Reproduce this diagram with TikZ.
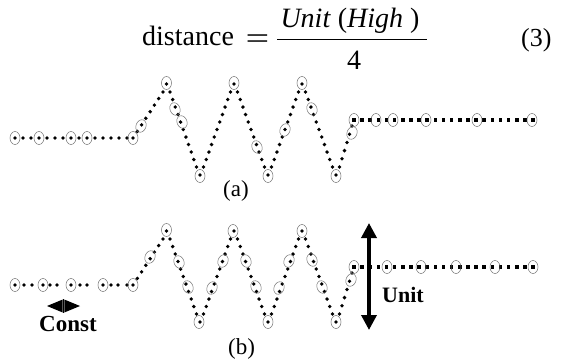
\documentclass[tikz,border=0pt]{standalone}
\usepackage{fontspec}
\setmainfont{Liberation Serif}
\usetikzlibrary{arrows.meta}
\tikzset{
  ring/.style={draw=black!55, line width=0.5pt},
  bigarrow/.style={line width=3.5pt,{Triangle[length=15pt,width=15pt]}-{Triangle[length=15pt,width=15pt]}},
  lbl/.style={inner sep=0pt, font=\fontsize{23}{25}\selectfont},
  blbl/.style={inner sep=0pt, font=\fontsize{22}{24}\selectfont\bfseries},
  eq/.style={inner sep=0pt, font=\fontsize{28}{30}\selectfont}
}
% dotted segment: x1 y1 x2 y2 n  (dots k=0..n)
\newcommand\dseg[5]{\foreach \k in {0,...,#5}{\pgfmathsetmacro\xx{#1+(#3-#1)*\k/#5}\pgfmathsetmacro\yy{#2+(#4-#2)*\k/#5}\fill (\xx,\yy) circle (1.9);}}
\newcommand\sqseg[5]{\foreach \k in {0,...,#5}{\pgfmathsetmacro\xx{#1+(#3-#1)*\k/#5}\pgfmathsetmacro\yy{#2+(#4-#2)*\k/#5}\fill (\xx-1.8,\yy-1.8) rectangle (\xx+1.8,\yy+1.8);}}
\newcommand\ringV[2]{\draw[ring] (#1,#2) ellipse (5 and 6.5);}
\newcommand\ringR[2]{\draw[ring, rotate around={-22:(#1,#2)}] (#1,#2) ellipse (5 and 6.5);}
\newcommand\ringF[2]{\draw[ring, rotate around={22:(#1,#2)}] (#1,#2) ellipse (5 and 6.5);}
% zigzag (shared): apex 84, valleys 175, left flat 138, right flat 120
\newcommand\zigzag{%
  \dseg{133}{138}{163}{92}{7}
  \fill (166.5,84) circle (1.9);
  \dseg{170}{92}{196.5}{167}{10}
  \fill (200,175) circle (1.9);
  \dseg{203.5}{167}{230.5}{92}{10}
  \fill (234,84) circle (1.9);
  \dseg{237.5}{92}{264.5}{167}{10}
  \fill (268,175) circle (1.9);
  \dseg{271.5}{167}{298.5}{92}{10}
  \fill (302,84) circle (1.9);
  \dseg{305.5}{92}{332.5}{167}{10}
  \fill (336,175) circle (1.9);
  \dseg{339.5}{167}{352}{126}{5}
  \sqseg{354}{120}{533}{120}{22}
}
\begin{document}
\begin{tikzpicture}[x=1pt,y=-1pt]
\useasboundingbox (0,0) rectangle (574,362);

% ---------- equation ----------
\node[eq, anchor=base west] (dist) at (142,45) {distance};
\node[inner sep=0pt, font=\fontsize{30}{32}\selectfont, anchor=base] (eqs) at (257.5,48.5) {\scalebox{1.4}[1]{=}};
\coordinate (fb1) at (277,39.5);
\coordinate (fb2) at (427,39.5);
\draw[line width=1.2pt] (fb1) -- (fb2);
\node[eq, anchor=base] (num) at (350,27) {\textit{Unit} (\textit{High} )};
\node[eq, anchor=base] (den) at (354,69) {4};
\node[inner sep=0pt, font=\fontsize{26}{28}\selectfont, anchor=base west] (eqn) at (521,46) {(3)};

% ---------- panel (a) ----------
\foreach \x in {15,23,...,127} {\fill (\x,138) circle (1.9);}
\zigzag
\foreach \x/\y in {15/138,39/138,71/138,87/138,133/138,166.5/83,200/176,234/83,268/176,302/83,336/176,354/120,376/120,393/120,426/120,477/120,532/120} {\ringV{\x}{\y}}
\foreach \x/\y in {141/126,285/130,352/133} {\ringR{\x}{\y}}
\foreach \x/\y in {175/109,182/122,257/147,312/109} {\ringF{\x}{\y}}
\node[lbl] (la) at (236,191) {(a)};

% ---------- panel (b) ----------
\begin{scope}[shift={(0,147)}]
\foreach \x in {15,24,32,43,50,57,71,80,87,103,111,118,127} {\fill (\x,138) circle (1.9);}
\zigzag
\end{scope}
\foreach \x/\y in {15/285,43/285,71/285,103/285,133/285,166.5/230,199/322,233/231,268/322,302/231,336/322,354/267,387/267,421/267,456/267,495/267,533/267} {\ringV{\x}{\y}}
\foreach \x/\y in {150/257,212/288,223/261,279/288,289/261,351/280} {\ringR{\x}{\y}}
\foreach \x/\y in {179/262,188/287,246/261,256/287,312/260,322/287} {\ringF{\x}{\y}}
\node[lbl] (lb) at (241.5,349) {(b)};

% Unit arrow
\coordinate (ut) at (369,223);
\coordinate (ub) at (369,330);
\draw[bigarrow] (ut) -- (ub);
\node[blbl] (unit) at (403,295) {Unit};

% Const arrow
\coordinate (cl) at (47,306);
\coordinate (cr) at (80,306);
\fill (cl) -- (62.7,299.5) -- (62.7,312.5) -- cycle;
\fill (cr) -- (64.3,299.5) -- (64.3,312.5) -- cycle;
\draw[line width=0.8pt] (63.5,299) -- (63.5,313);
\node[inner sep=0pt, font=\fontsize{23}{25}\selectfont\bfseries] (const) at (68,323.5) {Const};
\end{tikzpicture}
\end{document}
